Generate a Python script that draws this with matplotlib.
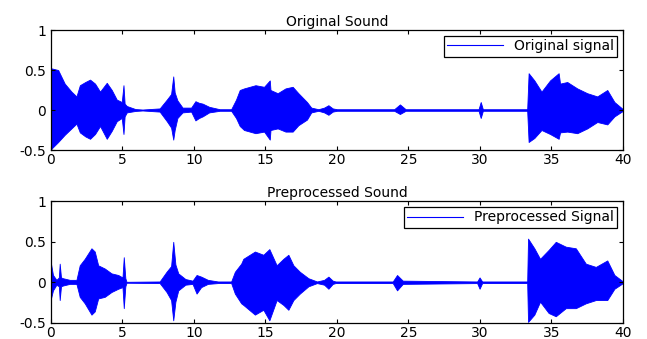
import numpy as np
import matplotlib.pyplot as plt

plt.rcParams['font.family'] = ['DejaVu Sans']

# envelope of the original signal (time in s, upper / lower amplitude)
t_orig = [0, 0.05, 0.5, 0.96, 1.43, 1.78, 2.02, 2.4, 2.73, 3.08, 3.43, 3.9, 4.25, 4.6, 4.95,
          5.07, 5.15, 5.3, 5.9, 6.4, 7.6, 8.1, 8.4, 8.55, 8.65, 8.84, 9.2, 9.8, 10.1, 10.35,
          10.6, 11.06, 11.8, 12.6, 12.94, 13.2, 13.5, 14.3, 14.9, 15.3, 15.35, 15.85, 16.4,
          16.9, 17.3, 17.9, 18.2, 18.7, 19.1, 19.4, 19.7, 20.0, 24.0, 24.4, 24.8, 29.9, 30.05,
          30.2, 33.3, 33.4, 33.8, 34.3, 34.9, 35.5, 35.6, 36.1, 36.8, 37.5, 38.2, 38.9, 39.4, 40.0]
up_orig = [0.50, 0.52, 0.50, 0.33, 0.23, 0.17, 0.31, 0.35, 0.38, 0.33, 0.23, 0.34, 0.25, 0.13, 0.10,
           0.31, 0.08, 0.05, 0.012, 0.006, 0.02, 0.13, 0.20, 0.42, 0.22, 0.12, 0.03, 0.03, 0.11, 0.09,
           0.08, 0.04, 0.01, 0.01, 0.13, 0.25, 0.27, 0.31, 0.29, 0.37, 0.25, 0.21, 0.27,
           0.29, 0.21, 0.10, 0.03, 0.01, 0.03, 0.06, 0.02, 0.01, 0.01, 0.07, 0.01, 0.01, 0.10,
           0.01, 0.01, 0.46, 0.37, 0.23, 0.37, 0.46, 0.33, 0.35, 0.27, 0.21, 0.17, 0.25, 0.10, 0.01]
lo_orig = [-0.50, -0.48, -0.40, -0.31, -0.23, -0.17, -0.28, -0.33, -0.36, -0.30, -0.20, -0.36, -0.26, -0.14, -0.10,
           -0.30, -0.08, -0.03, -0.012, -0.006, -0.02, -0.14, -0.22, -0.37, -0.25, -0.10, -0.03, -0.02, -0.13, -0.10,
           -0.08, -0.03, -0.01, -0.01, -0.10, -0.20, -0.25, -0.29, -0.27, -0.37, -0.25, -0.23, -0.27,
           -0.27, -0.19, -0.12, -0.03, -0.01, -0.03, -0.06, -0.02, -0.01, -0.01, -0.05, -0.01, -0.01, -0.10,
           -0.01, -0.01, -0.40, -0.35, -0.25, -0.30, -0.36, -0.28, -0.27, -0.29, -0.23, -0.15, -0.18, -0.08, -0.01]

# envelope of the preprocessed signal
t_pre = [0, 0.14, 0.38, 0.55, 0.61, 0.7, 0.84, 1.31, 1.78, 2.01, 2.36, 2.83, 3.06, 3.3, 3.76,
         4.23, 4.7, 5.0, 5.09, 5.2, 5.28, 7.6, 8.08, 8.4, 8.55, 8.7, 8.9, 9.4, 9.9, 10.18,
         10.5, 10.97, 11.67, 12.6, 12.86, 13.3, 13.45, 14.26, 14.85, 15.27, 15.78, 16.25, 16.6,
         16.95, 17.4, 18.0, 18.6, 19.1, 19.4, 19.7, 19.9, 23.9, 24.2, 24.6, 29.8, 29.97, 30.15,
         33.3, 33.36, 33.8, 34.2, 34.8, 35.3, 36.0, 36.7, 37.4, 38.1, 38.9, 39.4, 40.0]
up_pre = [0.23, 0.09, 0.03, 0.06, 0.23, 0.06, 0.05, 0.03, 0.03, 0.21, 0.29, 0.42, 0.38, 0.21, 0.17,
          0.11, 0.09, 0.06, 0.31, 0.05, 0.006, 0.01, 0.13, 0.20, 0.50, 0.22, 0.11, 0.04, 0.02, 0.09,
          0.07, 0.03, 0.01, 0.01, 0.13, 0.23, 0.29, 0.38, 0.34, 0.41, 0.21, 0.29, 0.34,
          0.21, 0.13, 0.05, 0.01, 0.03, 0.07, 0.02, 0.01, 0.01, 0.09, 0.02, 0.01, 0.06, 0.01,
          0.01, 0.54, 0.42, 0.29, 0.40, 0.50, 0.44, 0.42, 0.23, 0.19, 0.27, 0.09, 0.01]
lo_pre = [-0.20, -0.10, -0.03, -0.05, -0.22, -0.05, -0.04, -0.02, -0.02, -0.18, -0.26, -0.40, -0.36, -0.20, -0.18,
          -0.12, -0.08, -0.06, -0.32, -0.05, -0.006, -0.01, -0.12, -0.22, -0.47, -0.24, -0.10, -0.03, -0.02, -0.14,
          -0.06, -0.02, -0.01, -0.01, -0.14, -0.26, -0.28, -0.40, -0.34, -0.47, -0.22, -0.28, -0.34,
          -0.22, -0.14, -0.05, -0.01, -0.03, -0.08, -0.02, -0.01, -0.01, -0.10, -0.02, -0.01, -0.08, -0.01,
          -0.01, -0.49, -0.40, -0.24, -0.38, -0.42, -0.32, -0.32, -0.26, -0.22, -0.22, -0.08, -0.01]

panels = [
    ('Original Sound', 'Original signal', t_orig, up_orig, lo_orig, [0.0788, 0.5575, 0.8841, 0.354]),
    ('Preprocessed Sound', 'Preprocessed Signal', t_pre, up_pre, lo_pre, [0.0788, 0.048, 0.8841, 0.358]),
]

fig = plt.figure(figsize=(6.47, 3.39), dpi=100)
for title, lab, t, up, lo, pos in panels:
    ax = fig.add_axes(pos)
    ax.fill_between(t, up, lo, color='#0000ff', lw=0.6, edgecolor='#0000ff')
    ax.plot([], [], color='#0000ff', lw=0.8, label=lab)
    ax.set_xlim(0, 40)
    ax.set_ylim(-0.5, 1)
    ax.set_xticks(np.arange(0, 41, 5))
    ax.set_yticks([-0.5, 0, 0.5, 1])
    ax.set_yticklabels(['-0.5', '0', '0.5', '1'])
    ax.tick_params(direction='in', top=True, right=True, length=3, width=0.8, labelsize=10)
    ax.tick_params(axis='x', pad=2.5)
    ax.tick_params(axis='y', pad=3.5)
    for s in ax.spines.values():
        s.set_linewidth(0.9)
    ax.set_title(title, fontsize=10, pad=3)
    leg = ax.legend(loc='upper right', fontsize=10, fancybox=False, handlelength=4.0,
                    borderaxespad=0.4, borderpad=0.25, framealpha=1)
    leg.get_frame().set_edgecolor('black')
    leg.get_frame().set_linewidth(0.9)

plt.savefig('out.png', dpi=100)
